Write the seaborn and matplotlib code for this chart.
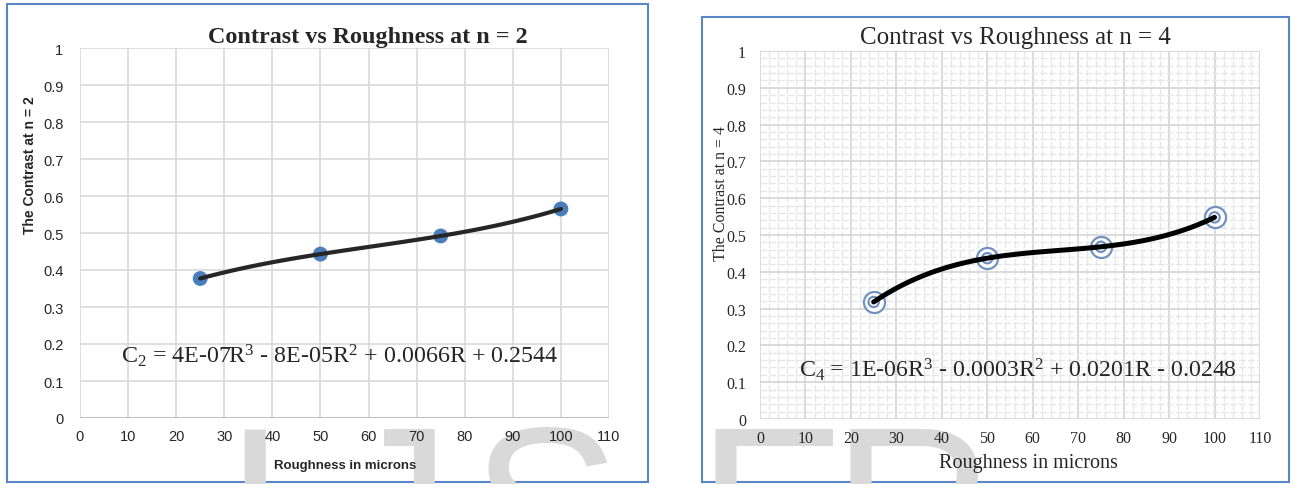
import numpy as np
import pandas as pd
import matplotlib
matplotlib.use('Agg')
import matplotlib.pyplot as plt
from matplotlib.patches import Rectangle
from matplotlib.ticker import MultipleLocator
import seaborn as sns

# values
roughness = [25, 50, 75, 100]
contrast_n2 = [0.377, 0.443, 0.492, 0.565]
contrast_n4 = [0.318, 0.437, 0.468, 0.548]
x_ticks = list(range(0, 111, 10))
y_ticks = [0, 0.1, 0.2, 0.3, 0.4, 0.5, 0.6, 0.7, 0.8, 0.9, 1]
y_tick_labels = ['0', '0.1', '0.2', '0.3', '0.4', '0.5', '0.6', '0.7', '0.8', '0.9', '1']
eq_n2 = r'C$_2$ = 4E-07R$^3$ - 8E-05R$^2$ + 0.0066R + 0.2544'
eq_n4 = r'C$_4$ = 1E-06R$^3$ - 0.0003R$^2$ + 0.0201R - 0.0248'
watermark = ['I', 'J', 'S', 'E', 'R']
watermark_x = [254, 395, 546, 772, 913]

df2 = pd.DataFrame({'R': roughness, 'C': contrast_n2})
df4 = pd.DataFrame({'R': roughness, 'C': contrast_n4})

sns.set_style('white')
plt.rcParams['mathtext.fontset'] = 'custom'
plt.rcParams['mathtext.rm'] = 'Liberation Serif'
plt.rcParams['mathtext.it'] = 'Liberation Serif'

W, H = 1291, 485
fig = plt.figure(figsize=(W / 100, H / 100), dpi=100)
fig.patch.set_facecolor('white')

# chart-area frames
box_col = '#5b86c5'
fig.add_artist(Rectangle((7 / W, 1 - 483 / H), 641 / W, 478 / H, transform=fig.transFigure,
                         fill=False, edgecolor=box_col, lw=1.5, zorder=0.2))
fig.add_artist(Rectangle((702 / W, 1 - 483 / H), 587 / W, 465 / H, transform=fig.transFigure,
                         fill=False, edgecolor=box_col, lw=1.5, zorder=0.2))

# faint watermark letters behind the charts
for ch, px in zip(watermark, watermark_x):
    fig.text(px / W, 1 - 421 / H, ch, fontsize=162, family='Liberation Sans', color='#d9d9d9',
             ha='center', va='top', zorder=0.5)

serif = 'Liberation Serif'
sans = 'Liberation Sans'

# ---------------- left: n = 2 ----------------
ax1 = fig.add_axes([80 / W, 1 - 419 / H, 529 / W, 370 / H])
ax1.set_zorder(1)
ax1.set_facecolor('white')
sns.scatterplot(data=df2, x='R', y='C', ax=ax1, color='#4a7ebb', s=115, edgecolor='none', zorder=3)
sns.regplot(data=df2, x='R', y='C', ax=ax1, order=3, ci=None, scatter=False,
            line_kws={'color': '#262626', 'lw': 3.0, 'zorder': 4, 'solid_capstyle': 'round'})
ax1.set_xlim(0, 110)
ax1.set_ylim(0, 1)
ax1.set_xticks(x_ticks)
ax1.set_yticks(y_ticks)
ax1.set_yticklabels(y_tick_labels)
ax1.grid(True, color='#d9d9d9', lw=1.2)
for s in ax1.spines.values():
    s.set_visible(False)
ax1.axhline(0, color='#bfbfbf', lw=1.5, zorder=2)
ax1.tick_params(length=0, labelsize=10.5, pad=8)
ax1.tick_params(axis='y', pad=12)
for lab in ax1.get_xticklabels() + ax1.get_yticklabels():
    lab.set_family(sans)
ax1.set_xlabel('Roughness in microns', fontsize=9.5, fontweight='bold', family=sans, va='center')
ax1.xaxis.set_label_coords(0.501, -0.127)
ax1.set_ylabel('The Contrast at n = 2', fontsize=10, fontweight='bold', family=sans, va='center')
ax1.yaxis.set_label_coords(-0.0945, 0.686)
ax1.set_title('Contrast vs Roughness at n = 2', family=serif, fontweight='bold', fontsize=17.4,
              x=0.544, y=1.03, va='center', pad=0)
ax1.text(0.491, 0.17, eq_n2, transform=ax1.transAxes, ha='center', va='center',
         fontsize=17.3, family=serif, zorder=5)

# ---------------- right: n = 4 ----------------
ax2 = fig.add_axes([760 / W, 1 - 420 / H, 500 / W, 368 / H])
ax2.set_zorder(1)
ax2.set_facecolor('white')
ring = '#7191c0'
sns.scatterplot(data=df4, x='R', y='C', ax=ax2, s=230, facecolor='white', edgecolor=ring,
                linewidth=1.6, zorder=3)
sns.scatterplot(data=df4, x='R', y='C', ax=ax2, s=55, facecolor='none', edgecolor=ring,
                linewidth=1.6, zorder=3)
sns.regplot(data=df4, x='R', y='C', ax=ax2, order=3, ci=None, scatter=False,
            line_kws={'color': 'black', 'lw': 3.6, 'zorder': 4, 'solid_capstyle': 'round'})
ax2.set_xlim(0, 110)
ax2.set_ylim(0, 1)
ax2.set_xticks(x_ticks)
ax2.set_yticks(y_ticks)
ax2.set_yticklabels(y_tick_labels)
ax2.xaxis.set_minor_locator(MultipleLocator(2))
ax2.yaxis.set_minor_locator(MultipleLocator(0.02))
ax2.grid(True, which='minor', color='#e6e6e6', lw=1.0, ls=(0, (5, 1.5)))
ax2.grid(True, which='major', color='#d4d4d4', lw=1.2)
for s in ax2.spines.values():
    s.set_visible(False)
ax2.tick_params(which='both', length=0, labelsize=11.5, pad=8)
ax2.tick_params(axis='y', pad=10)
for lab in ax2.get_xticklabels() + ax2.get_yticklabels():
    lab.set_family(serif)
ax2.set_xlabel('Roughness in microns', fontsize=14.5, family=serif, va='center')
ax2.xaxis.set_label_coords(0.536, -0.117)
ax2.set_ylabel('The Contrast at n = 4', fontsize=11.4, family=serif, va='center')
ax2.yaxis.set_label_coords(-0.078, 0.614)
ax2.set_title('Contrast vs Roughness at n = 4', family=serif, fontsize=18,
              x=0.51, y=1.038, va='center', pad=0)
ax2.text(0.516, 0.136, eq_n4, transform=ax2.transAxes, ha='center', va='center',
         fontsize=17.2, family=serif, zorder=5)

fig.savefig('out.png', dpi=100, facecolor='white')
